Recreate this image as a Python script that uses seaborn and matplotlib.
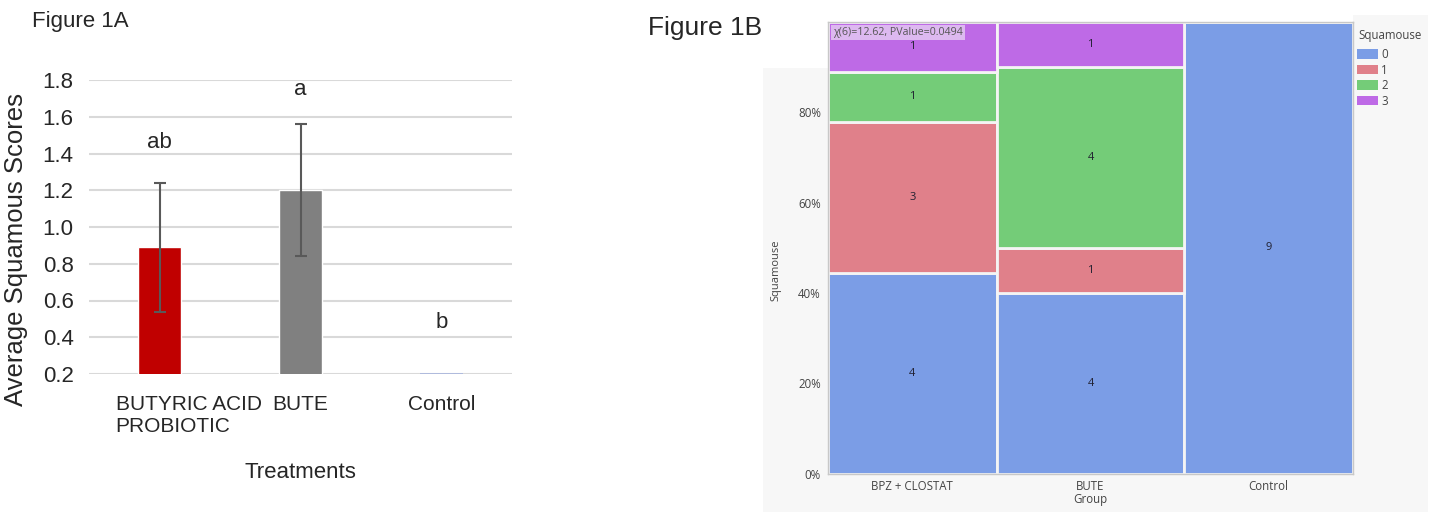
import numpy as np
import pandas as pd
import matplotlib
matplotlib.use("Agg")
import matplotlib.pyplot as plt
import seaborn as sns
from matplotlib import font_manager
from matplotlib.patches import Rectangle, Patch
from matplotlib.transforms import ScaledTranslation

# === datos figura 1A ===
treatments = ["BUTYRIC ACID\nPROBIOTIC", "BUTE", "Control"]
mean_scores = [0.89, 1.20, 0.0]
err_scores = [0.35, 0.36, 0.0]
letters = ["ab", "a", "b"]
letter_y = [1.46, 1.75, 0.48]
bar_colors = ["#c00000", "#808080", "#4472c4"]

# === datos figura 1B (mosaico) ===
groups = ["BPZ + CLOSTAT", "BUTE", "Control"]
score_levels = ["0", "1", "2", "3"]
counts_0 = [4, 4, 9]
counts_1 = [3, 1, 0]
counts_2 = [1, 4, 0]
counts_3 = [1, 1, 0]
level_colors = ["#7b9de6", "#e0808a", "#74cc78", "#be6ae6"]
stat_text = "χ(6)=12.62, PValue=0.0494"

sns.set_style("white")
plt.rcParams["font.family"] = ["Liberation Sans", "DejaVu Sans"]

names = {f.name for f in font_manager.fontManager.ttflist}
if "Liberation Sans Narrow" in names:
    narrow = ["Liberation Sans Narrow", "DejaVu Sans"]
    nsize, tsize = 18, 18
else:
    narrow = ["Liberation Sans", "DejaVu Sans"]
    nsize, tsize = 16, 15
small = ["Open Sans", "DejaVu Sans"]
txt_col = "#444444"

fig = plt.figure(figsize=(14.34, 5.12), dpi=100)
W, H = 1434, 512

# fondo gris del panel B
fig.add_artist(Rectangle((763 / W, 0), 665 / W, 1 - 68 / H, transform=fig.transFigure,
                         facecolor="#f7f7f7", edgecolor="none", zorder=-2))
fig.add_artist(Rectangle((1353 / W, 1 - 68 / H), 75 / W, 53 / H, transform=fig.transFigure,
                         facecolor="#f7f7f7", edgecolor="none", zorder=-2))

# === Figura 1A ===
ax1 = fig.add_axes([89 / W, 1 - 374 / H, 423 / W, 294 / H])
sns.barplot(x=treatments, y=mean_scores, hue=treatments, palette=bar_colors,
            legend=False, width=0.31, ax=ax1, saturation=1)
ax1.errorbar(x=np.arange(len(treatments)), y=mean_scores, yerr=err_scores, fmt="none",
             ecolor="#595959", elinewidth=1.5, capsize=4, capthick=1.5, zorder=3)
ymin = 0.2
ax1.set_ylim(ymin, 1.8)
ax1.set_xlim(-0.5, 2.5)
# barras por debajo del eje: se marca el borde
for patch, val in zip(ax1.patches, mean_scores):
    if val <= ymin:
        ax1.plot([patch.get_x(), patch.get_x() + patch.get_width()], [ymin, ymin],
                 color="#a8b6de", lw=1.2, zorder=4, solid_capstyle="butt")
for i, (lab, yy) in enumerate(zip(letters, letter_y)):
    ax1.text(i, yy, lab, ha="center", va="center", family=narrow, fontsize=nsize)

ax1.set_yticks(np.arange(0.2, 1.81, 0.2))
ax1.set_yticklabels([f"{v:.1f}" for v in np.arange(0.2, 1.81, 0.2)], family=narrow, fontsize=nsize)
ax1.yaxis.grid(True, color="#d9d9d9", lw=1.5)
ax1.set_axisbelow(True)
for s in ax1.spines.values():
    s.set_visible(False)
ax1.tick_params(axis="both", length=0)
ax1.tick_params(axis="y", pad=11)
ax1.tick_params(axis="x", pad=15)
for lab in ax1.get_xticklabels():
    lab.set_family(narrow)
    lab.set_fontsize(tsize)
first = ax1.get_xticklabels()[0]
first.set_ha("left")
first.set_multialignment("left")
first.set_transform(first.get_transform() + ScaledTranslation(-44 / 100, 0, fig.dpi_scale_trans))
ax1.set_xlabel("Treatments", family=narrow, fontsize=nsize)
ax1.xaxis.set_label_coords(0.499, -0.30)
ax1.set_ylabel("Average Squamous Scores", fontsize=18.5)
ax1.yaxis.label.set_va("center")
ax1.yaxis.set_label_coords(-0.172, 0.425)

fig.text(32 / W, 1 - 22 / H, "Figure 1A", family=narrow, fontsize=nsize, va="center", ha="left")
fig.text(648 / W, 1 - 28 / H, "Figure 1B", fontsize=19, va="center", ha="left")

# === Figura 1B (mosaico) ===
df = pd.DataFrame({"0": counts_0, "1": counts_1, "2": counts_2, "3": counts_3}, index=groups)
totals = df.sum(axis=1)
widths = totals / totals.sum()
lefts = widths.cumsum() - widths
fracs = df.div(totals, axis=0)
bottoms = fracs.cumsum(axis=1) - fracs

ax2 = fig.add_axes([828 / W, 1 - 474 / H, 525 / W, 452.5 / H])
for lvl, col in zip(score_levels, level_colors):
    ax2.bar(lefts, fracs[lvl], width=widths, bottom=bottoms[lvl], align="edge",
            color=col, edgecolor="#f4f4f4", linewidth=2)
    for g in groups:
        n = df.loc[g, lvl]
        if n > 0:
            ax2.text(lefts[g] + widths[g] / 2, bottoms.loc[g, lvl] + fracs.loc[g, lvl] / 2, str(n),
                     ha="center", va="center", fontsize=8, color="#202030", family=small)
ax2.set_xlim(0, 1)
ax2.set_ylim(0, 1)
ax2.set_xticks(lefts + widths / 2)
ax2.set_xticklabels(groups, family=small, fontsize=8.3, color=txt_col)
ax2.set_yticks([0, 0.2, 0.4, 0.6, 0.8])
ax2.set_yticklabels(["0%", "20%", "40%", "60%", "80%"], family=small, fontsize=8.3, color=txt_col)
ax2.set_yticks([0.1, 0.3, 0.5, 0.7, 0.9], minor=True)
ax2.tick_params(axis="x", length=0, pad=4)
ax2.tick_params(axis="y", which="major", length=4, color="#9a9a9a", pad=1)
ax2.tick_params(axis="y", which="minor", length=3, color="#9a9a9a")
for s in ax2.spines.values():
    s.set_color("#c8c8c8")
    s.set_linewidth(1)
ax2.set_xlabel("Group", family=small, fontsize=8.3, color=txt_col, labelpad=0)
ax2.set_ylabel("Squamouse", family=small, fontsize=8, color=txt_col)
ax2.yaxis.label.set_va("center")
ax2.yaxis.set_label_coords(-0.099, 0.45)
ax2.text(0.0095, 0.975, stat_text, transform=ax2.transAxes, ha="left", va="center",
         fontsize=7.7, family=small, color="#555555",
         bbox=dict(facecolor="#ddb9f0", edgecolor="none", pad=1.5))

# leyenda
fig.text(1358 / W, 1 - 35 / H, "Squamouse", family=small, fontsize=8.3, color=txt_col,
         ha="left", va="center")
handles = [Patch(facecolor=c, edgecolor="none", label=l) for l, c in zip(score_levels, level_colors)]
leg = fig.legend(handles=handles, loc="upper left",
                 bbox_to_anchor=(1357 / W, 1 - 48 / H), frameon=False,
                 prop={"family": small, "size": 8.3},
                 handlelength=1.8, handleheight=0.9, labelspacing=0.22, handletextpad=0.3,
                 borderpad=0, borderaxespad=0)
for t in leg.get_texts():
    t.set_color(txt_col)

fig.savefig("out.png", dpi=100, facecolor="white")
